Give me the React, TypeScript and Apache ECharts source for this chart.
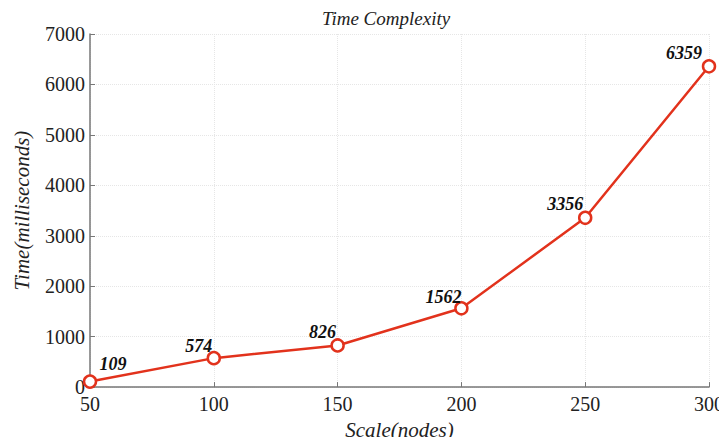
import React, { useEffect, useRef } from "react";
import * as echarts from "echarts";

const scales = [50, 100, 150, 200, 250, 300];
const times = [109, 574, 826, 1562, 3356, 6359];
const labelOffsets: [number, number][] = [
  [23, -18],
  [-15, -12],
  [-15, -13],
  [-18, -11],
  [-20, -14],
  [-25, -13],
];

const FONT = "'Liberation Serif', 'Times New Roman', serif";

export default function App() {
  const ref = useRef<HTMLDivElement>(null);
  useEffect(() => {
    if (!ref.current) return;
    const chart = echarts.init(ref.current, null, { renderer: "svg" });
    chart.setOption({
      animation: false,
      backgroundColor: "#ffffff",
      title: {
        text: "Time Complexity",
        left: 381,
        top: 4,
        textAlign: "center",
        textStyle: {
          fontFamily: FONT,
          fontStyle: "italic",
          fontWeight: "normal",
          fontSize: 19,
          color: "#222",
        },
      },
      grid: { left: 90, right: 17, top: 34, bottom: 52, containLabel: false },
      xAxis: {
        type: "value",
        min: 50,
        max: 300,
        interval: 50,
        name: "Scale(nodes)",
        nameLocation: "middle",
        nameGap: 30,
        nameTextStyle: {
          fontFamily: FONT,
          fontStyle: "italic",
          fontSize: 21,
          color: "#222",
        },
        axisLine: { show: true, lineStyle: { color: "#777", width: 1.5 } },
        axisTick: { show: true, inside: true, length: 5, lineStyle: { color: "#777" } },
        axisLabel: { fontFamily: FONT, fontSize: 20, color: "#222", margin: 7 },
        splitLine: { show: true, lineStyle: { color: "#e6e6e6", type: "dotted", width: 1 } },
      },
      yAxis: {
        type: "value",
        min: 0,
        max: 7000,
        interval: 1000,
        name: "Time(milliseconds)",
        nameLocation: "middle",
        nameGap: 58,
        nameTextStyle: {
          fontFamily: FONT,
          fontStyle: "italic",
          fontSize: 21,
          color: "#222",
        },
        axisLine: { show: true, lineStyle: { color: "#777", width: 1.5 } },
        axisTick: { show: true, inside: true, length: 5, lineStyle: { color: "#777" } },
        axisLabel: {
          fontFamily: FONT,
          fontSize: 20,
          color: "#222",
          margin: 5,
          formatter: (v: number) => String(v),
        },
        splitLine: { show: true, lineStyle: { color: "#e6e6e6", type: "dotted", width: 1 } },
      },
      series: [
        {
          type: "line",
          data: scales.map((s, i) => ({
            value: [s, times[i]],
            label: { offset: labelOffsets[i] },
          })),
          symbol: "circle",
          symbolSize: 12,
          showAllSymbol: true,
          lineStyle: { color: "#e2321c", width: 2.5 },
          itemStyle: { color: "#ffffff", borderColor: "#e2321c", borderWidth: 2.5 },
          clip: false,
          label: {
            show: true,
            position: "inside",
            fontFamily: FONT,
            fontStyle: "italic",
            fontWeight: "bold",
            fontSize: 18,
            color: "#111",
            formatter: (p: any) => String(p.value[1]),
          },
          z: 5,
        },
      ],
    });
    return () => chart.dispose();
  }, []);
  return <div ref={ref} style={{ width: 727, height: 445, margin: -8 }} />;
}
